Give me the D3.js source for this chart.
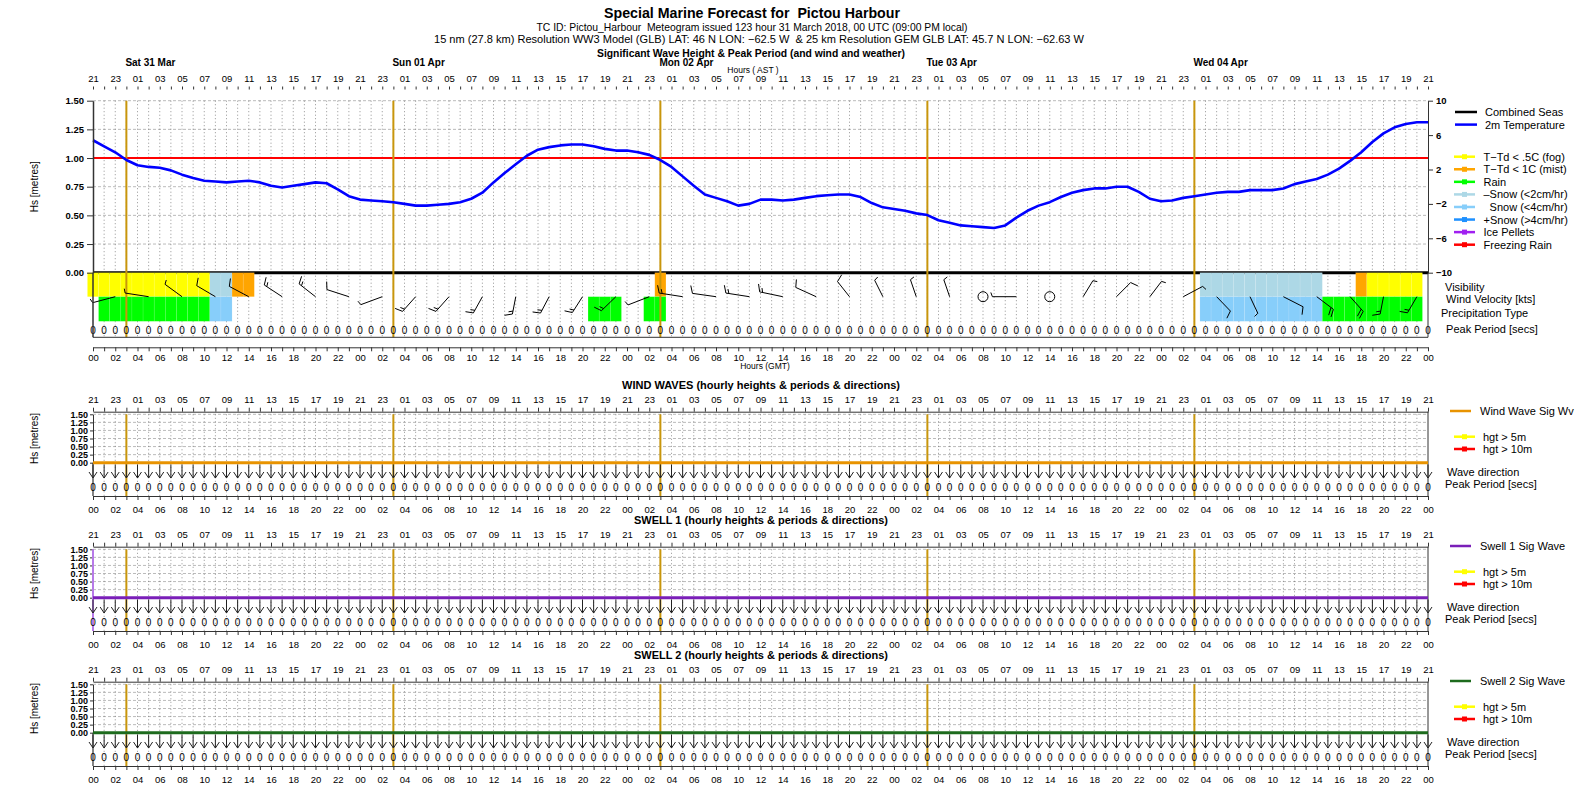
<!DOCTYPE html>
<html><head><meta charset="utf-8">
<script src="https://cdn.jsdelivr.net/npm/d3@7"></script>
<style>
body{margin:0;background:#fff}
svg{display:block}
text{font-family:"Liberation Sans",Arial,Helvetica,sans-serif;white-space:pre;fill:#000}
</style>
</head><body>
<svg id="c" width="1584" height="792"></svg>
<script>
// ---------------- DATA ----------------
const hoursGMT = d3.range(0, 121);            // hourly time steps (hours after 00 GMT 31 Mar)
const dayLabels = ["Sat 31 Mar","Sun 01 Apr","Mon 02 Apr","Tue 03 Apr","Wed 04 Apr"];
const dayStartHours = [3, 27, 51, 75, 99];    // local midnight (GMT hour)
const hsTicks = [0, 0.25, 0.5, 0.75, 1.0, 1.25, 1.5];
const tempTicks = [10, 6, 2, -2, -6, -10];
const hsThreshold = 1.0;

const temp2m = [5.4,4.7,4.0,3.1,2.5,2.3,2.2,1.9,1.4,1.0,
  0.7,0.6,0.5,0.6,0.7,0.5,0.1,-0.1,0.1,0.3,
  0.5,0.4,-0.3,-1.1,-1.5,-1.6,-1.7,-1.8,-2.0,-2.2,
  -2.2,-2.1,-2.0,-1.8,-1.4,-0.7,0.5,1.6,2.6,3.6,
  4.3,4.6,4.8,4.9,4.9,4.7,4.4,4.2,4.2,4.0,
  3.7,3.1,2.3,1.2,0.1,-0.9,-1.3,-1.7,-2.2,-2.0,
  -1.5,-1.5,-1.6,-1.5,-1.3,-1.1,-1.0,-0.9,-0.9,-1.2,
  -1.9,-2.4,-2.6,-2.8,-3.1,-3.3,-3.9,-4.2,-4.5,-4.6,
  -4.7,-4.8,-4.5,-3.6,-2.8,-2.2,-1.8,-1.2,-0.7,-0.4,
  -0.2,-0.2,0.0,0.0,-0.6,-1.4,-1.7,-1.6,-1.3,-1.1,
  -0.9,-0.7,-0.6,-0.6,-0.4,-0.4,-0.4,-0.2,0.3,0.6,
  0.9,1.4,2.1,3.0,4.0,5.2,6.2,6.9,7.3,7.5,7.5];

const combinedSeas = [0,0,0,0,0,0,0,0,0,0,0, 0,0,0,0,0,0,0,0,0,0,0, 0,0,0,0,0,0,0,0,0,0,0, 0,0,0,0,0,0,0,0,0,0,0,
  0,0,0,0,0,0,0,0,0,0,0, 0,0,0,0,0,0,0,0,0,0,0, 0,0,0,0,0,0,0,0,0,0,0, 0,0,0,0,0,0,0,0,0,0,0,
  0,0,0,0,0,0,0,0,0,0,0, 0,0,0,0,0,0,0,0,0,0,0, 0,0,0,0,0,0,0,0,0,0,0];
const peakPeriod = [0,0,0,0,0,0,0,0,0,0,0, 0,0,0,0,0,0,0,0,0,0,0, 0,0,0,0,0,0,0,0,0,0,0, 0,0,0,0,0,0,0,0,0,0,0,
  0,0,0,0,0,0,0,0,0,0,0, 0,0,0,0,0,0,0,0,0,0,0, 0,0,0,0,0,0,0,0,0,0,0, 0,0,0,0,0,0,0,0,0,0,0,
  0,0,0,0,0,0,0,0,0,0,0, 0,0,0,0,0,0,0,0,0,0,0, 0,0,0,0,0,0,0,0,0,0,0];

// hourly weather codes: F fog, M mist, R rain, L light snow, S snow, . none
const visHourly = ("FFFFFFFFFFF" + "LL" + "MM" + "...................................." + "M" +
  "................................................" + "LLLLLLLLLLL" + "..." + "M" + "FFFFF" + ".").split("");
const precipHourly = ("." + "RRRRRRRRRR" + "SS" + "................................" + "RRR" + ".." + "RR" +
  "................................................" + "SSSSSSSSSSS" + "RRRRRRRRR" + ".").split("");

// wind barbs (knots, direction wind blows from)
const barbHours = [2,5,8,11,14,17,20,23,26,29,32,35,38,41,44,47,50,53,56,59,62,65,68,71,74,77,80,83,86,89,92,95,98,101,104,107,110,113,116,119];
const barbDir   = [250,282,315,309,306,312,317,294,243,213,213,202,188,201,205,217,242,282,281,282,286,302,330,340,346,346,0,270,0,24,36,29,54,145,161,125,136,147,188,203];
const barbSpeed = [5,5,5,10,10,15,15,10,5,15,15,15,15,15,15,15,5,15,10,15,15,10,10,5,5,5,0,5,0,5,10,5,5,10,5,10,20,20,15,15];

// lower panels (hourly, all zero in this forecast)
const windWaveHs = combinedSeas.slice(), windWaveDir = combinedSeas.slice(), windWavePeriod = peakPeriod.slice();
const swell1Hs = combinedSeas.slice(), swell1Dir = combinedSeas.slice(), swell1Period = peakPeriod.slice();
const swell2Hs = combinedSeas.slice(), swell2Dir = combinedSeas.slice(), swell2Period = peakPeriod.slice();

const wxLegend = [
  ["F","T\u2212Td < .5C (fog)","#ffff00"],
  ["M","T\u2212Td < 1C (mist)","#ffa500"],
  ["R","Rain","#00ff00"],
  ["L","\u2013Snow (<2cm/hr)","#add8e6"],
  ["S","  Snow (<4cm/hr)","#87cefa"],
  ["H","+Snow (>4cm/hr)","#1e90ff"],
  ["I","Ice Pellets","#a020f0"],
  ["Z","Freezing Rain","#ff0000"]];
const wxColor = Object.fromEntries(wxLegend.map(d => [d[0], d[2]]));

// ---------------- DRAW ----------------
const svg = d3.select("#c");
const x = d3.scaleLinear().domain([0, 120]).range([93, 1428]);
const pad2 = n => String(n).padStart(2, "0");
const FONT = '"Liberation Sans",Arial,Helvetica,sans-serif';
const dayLineColor = "#c8960c";

function txt(g, s, xx, yy, fs, opts = {}) {
  const t = g.append("text").attr("x", xx).attr("y", yy).attr("font-size", fs).text(s);
  if (opts.bold) t.attr("font-weight", "bold");
  if (opts.anchor) t.attr("text-anchor", opts.anchor);
  if (opts.len) t.attr("textLength", opts.len).attr("lengthAdjust", "spacingAndGlyphs");
  return t;
}
function styleAxis(g, fs, bold) {
  g.selectAll("text").attr("font-size", fs).attr("font-family", FONT)
    .attr("font-weight", bold ? "bold" : "normal").style("fill", "#000");
  g.selectAll("line").attr("stroke", "#333");
  g.selectAll("path").attr("stroke", "#333");
}

// headers
txt(svg, "Special Marine Forecast for  Pictou Harbour", 752, 18, 14, {bold: true, anchor: "middle", len: 296});
txt(svg, "TC ID: Pictou_Harbour  Meteogram issued 123 hour 31 March 2018, 00 UTC (09:00 PM local)", 752, 30.5, 11, {anchor: "middle", len: 431});
txt(svg, "15 nm (27.8 km) Resolution WW3 Model (GLB) LAT: 46 N LON: \u221262.5 W  & 25 km Resolution GEM GLB LAT: 45.7 N LON: \u221262.63 W", 759, 43, 11, {anchor: "middle", len: 650});
txt(svg, "Significant Wave Height & Peak Period (and wind and weather)", 751, 56.5, 11, {bold: true, anchor: "middle", len: 308});
dayLabels.forEach((d, i) => txt(svg, d, x(dayStartHours[i]) - 1, 66, 10, {bold: true}));
txt(svg, "Hours ( AST )", 753, 73, 8.5, {anchor: "middle"});

// ---------- main panel ----------
const M = {top: 100.7, zero: 272.7, visB: 296.7, prB: 321.3, zerosY: 330, bottom: 337.3};
const yHs = d3.scaleLinear().domain([0, 1.5]).range([M.zero, M.top]);
const yT = d3.scaleLinear().domain([-10, 10]).range([M.zero, M.top]);
const gm = svg.append("g");

const topAx = gm.append("g").attr("transform", "translate(0,89.5)")
  .call(d3.axisTop(x).tickValues(hoursGMT).tickSize(3).tickPadding(5)
    .tickFormat(h => h % 2 === 0 ? pad2((h + 21) % 24) : ""));
topAx.select(".domain").remove();
styleAxis(topAx, 9.5, false);

gm.append("g").selectAll("line").data(hsTicks.filter(d => d > 0)).join("line")
  .attr("x1", x(0)).attr("x2", x(120)).attr("y1", d => yHs(d)).attr("y2", d => yHs(d))
  .attr("stroke", "#aaa").attr("stroke-width", 0.8).attr("stroke-dasharray", "3,2");
gm.append("g").selectAll("line").data(hoursGMT.slice(1, 120)).join("line")
  .attr("x1", d => x(d)).attr("x2", d => x(d)).attr("y1", M.top).attr("y2", M.bottom)
  .attr("stroke", "#777").attr("stroke-width", 0.8).attr("stroke-dasharray", "1,2.5");

gm.append("line").attr("x1", x(0)).attr("x2", x(120)).attr("y1", yHs(hsThreshold)).attr("y2", yHs(hsThreshold))
  .attr("stroke", "#ff0000").attr("stroke-width", 2);

gm.append("path").datum(combinedSeas)
  .attr("d", d3.line().x((d, i) => x(hoursGMT[i])).y(d => yHs(d)))
  .attr("fill", "none").attr("stroke", "#000").attr("stroke-width", 3);

// weather cells (hourly, centred on the hour)
const cw = x(1) - x(0);
const cells = gm.append("g");
visHourly.forEach((c, i) => { if (wxColor[c]) cells.append("rect").attr("x", x(hoursGMT[i]) - cw / 2).attr("width", cw)
  .attr("y", M.zero).attr("height", M.visB - M.zero).attr("fill", wxColor[c]); });
precipHourly.forEach((c, i) => { if (wxColor[c]) cells.append("rect").attr("x", x(hoursGMT[i]) - cw / 2).attr("width", cw)
  .attr("y", M.visB).attr("height", M.prB - M.visB).attr("fill", wxColor[c]); });
cells.selectAll("rect").attr("stroke", "#ffffff").attr("stroke-opacity", 0.15).attr("stroke-width", 0.6);

gm.append("g").selectAll("line").data(dayStartHours).join("line")
  .attr("x1", d => x(d)).attr("x2", d => x(d)).attr("y1", M.top).attr("y2", M.bottom)
  .attr("stroke", dayLineColor).attr("stroke-width", 2);

gm.append("path").datum(temp2m)
  .attr("d", d3.line().x((d, i) => x(hoursGMT[i])).y(d => yT(d)))
  .attr("fill", "none").attr("stroke", "#0000ff").attr("stroke-width", 2.6).attr("stroke-linejoin", "round");

// wind barbs
const gb = gm.append("g").attr("stroke", "#000").attr("stroke-width", 1).attr("fill", "none");
barbHours.forEach((h, i) => {
  const bx = x(h), by = M.visB, sp = barbSpeed[i], d = barbDir[i] * Math.PI / 180;
  if (sp === 0) { gb.append("circle").attr("cx", bx).attr("cy", by).attr("r", 5); return; }
  const tx = bx + 24 * Math.sin(d), ty = by - 17.5 * Math.cos(d);
  gb.append("line").attr("x1", bx).attr("y1", by).attr("x2", tx).attr("y2", ty);
  const L = Math.hypot(tx - bx, ty - by), ux = (tx - bx) / L, uy = (ty - by) / L;
  const a = 70 * Math.PI / 180, fx = ux * Math.cos(a) - uy * Math.sin(a), fy = ux * Math.sin(a) + uy * Math.cos(a);
  const n10 = Math.floor(sp / 10), n5 = (sp % 10) >= 5 ? 1 : 0;
  let pos = 0;
  for (let k = 0; k < n10; k++) {
    const px = tx - ux * pos, py = ty - uy * pos;
    gb.append("line").attr("x1", px).attr("y1", py).attr("x2", px + fx * 8).attr("y2", py + fy * 8);
    pos += 3;
  }
  if (n5) {
    const px = tx - ux * pos, py = ty - uy * pos;
    gb.append("line").attr("x1", px).attr("y1", py).attr("x2", px + fx * 4.5).attr("y2", py + fy * 4.5);
  }
});

gm.append("g").selectAll("text").data(peakPeriod).join("text")
  .attr("x", (d, i) => x(hoursGMT[i])).attr("y", M.zerosY + 3.6).attr("text-anchor", "middle")
  .attr("font-size", 10).text(d => d);

const la = gm.append("g").attr("transform", `translate(${x(0)},0)`)
  .call(d3.axisLeft(yHs).tickValues(hsTicks).tickFormat(d3.format(".2f")).tickSize(6).tickSizeOuter(0));
styleAxis(la, 9.5, true); la.select(".domain").attr("stroke-width", 1.5);
gm.append("line").attr("x1", x(0)).attr("x2", x(0)).attr("y1", M.zero).attr("y2", M.bottom).attr("stroke", "#333").attr("stroke-width", 1.5);
const ra = gm.append("g").attr("transform", `translate(${x(120)},0)`)
  .call(d3.axisRight(yT).tickValues(tempTicks).tickFormat(d => d < 0 ? "\u2212" + Math.abs(d) : d).tickSize(5).tickSizeOuter(0));
styleAxis(ra, 9.5, true);
gm.append("line").attr("x1", x(120)).attr("x2", x(120)).attr("y1", M.zero).attr("y2", M.bottom).attr("stroke", "#333");
gm.append("line").attr("x1", x(0)).attr("x2", x(120)).attr("y1", M.bottom).attr("y2", M.bottom).attr("stroke", "#333");
const ba = gm.append("g").attr("transform", "translate(0,347.3)")
  .call(d3.axisBottom(x).tickValues(hoursGMT).tickSize(4).tickSizeOuter(0).tickPadding(3)
    .tickFormat(h => h % 2 === 0 ? pad2(h % 24) : ""));
styleAxis(ba, 9.5, false);
txt(gm, "Hours (GMT)", 765, 369, 8.5, {anchor: "middle"});
txt(gm, "Hs [metres]", 0, 0, 10).attr("transform", `translate(38,${(M.top + M.zero) / 2}) rotate(-90)`).attr("text-anchor", "middle");

// main legend
const lg = gm.append("g");
[["Combined Seas", "#000", 112], ["2m Temperature", "#0000ff", 124.6]].forEach(([s, c, yy]) => {
  lg.append("line").attr("x1", 1455).attr("x2", 1477).attr("y1", yy).attr("y2", yy).attr("stroke", c).attr("stroke-width", 2.5);
  txt(lg, s, 1485, yy + 4, 11);
});
wxLegend.forEach((d, i) => {
  const yy = 156.7 + i * 12.57;
  lg.append("line").attr("x1", 1454).attr("x2", 1475).attr("y1", yy).attr("y2", yy).attr("stroke", d[2]).attr("stroke-width", 2.5);
  lg.append("rect").attr("x", 1462).attr("y", yy - 2.5).attr("width", 5).attr("height", 5).attr("fill", d[2]);
  txt(lg, d[1], 1483.5, yy + 4, 11);
});
txt(lg, "Visibility", 1445, 290.5, 11);
txt(lg, " Wind Velocity [kts]", 1443, 303, 11);
txt(lg, "Precipitation Type", 1441, 316.5, 11);
txt(lg, " Peak Period [secs]", 1443, 333, 11);

// ---------- lower panels ----------
const panels = [
  {P: 0, title: "WIND WAVES (hourly heights & periods & directions)", legend: "Wind Wave Sig Wv", color: "#e89300", hs: windWaveHs, dir: windWaveDir, per: windWavePeriod},
  {P: 135, title: "SWELL 1 (hourly heights & periods & directions)", legend: "Swell 1 Sig Wave", color: "#7a1fb8", hs: swell1Hs, dir: swell1Dir, per: swell1Period, edge: "#b77ae8"},
  {P: 270, title: "SWELL 2 (hourly heights & periods & directions)", legend: "Swell 2 Sig Wave", color: "#1d6b1d", hs: swell2Hs, dir: swell2Dir, per: swell2Period}
];
panels.forEach(p => {
  const P = p.P, g = svg.append("g");
  const top = P + 414.3, zero = P + 462.7, bottom = P + 496;
  const y = d3.scaleLinear().domain([0, 1.5]).range([zero, top]);
  txt(g, p.title, 761, P + 388.5, 11, {bold: true, anchor: "middle"});
  const ta = g.append("g").attr("transform", `translate(0,${P + 411.7})`)
    .call(d3.axisTop(x).tickValues(hoursGMT).tickSize(4).tickSizeOuter(0).tickPadding(4.5)
      .tickFormat(h => h % 2 === 0 ? pad2((h + 21) % 24) : ""));
  styleAxis(ta, 9.5, false);
  g.append("g").selectAll("line").data(hsTicks.filter(d => d > 0)).join("line")
    .attr("x1", x(0)).attr("x2", x(120)).attr("y1", d => y(d)).attr("y2", d => y(d))
    .attr("stroke", "#aaa").attr("stroke-width", 0.8).attr("stroke-dasharray", "3,2");
  g.append("g").selectAll("line").data(hoursGMT.slice(1, 120)).join("line")
    .attr("x1", d => x(d)).attr("x2", d => x(d)).attr("y1", top).attr("y2", bottom)
    .attr("stroke", "#777").attr("stroke-width", 0.8).attr("stroke-dasharray", "1,2.5");
  g.append("g").selectAll("line").data(dayStartHours).join("line")
    .attr("x1", d => x(d)).attr("x2", d => x(d)).attr("y1", top).attr("y2", bottom)
    .attr("stroke", dayLineColor).attr("stroke-width", 2);
  const la2 = g.append("g").attr("transform", `translate(${x(0)},0)`)
    .call(d3.axisLeft(y).tickValues(hsTicks).tickFormat(d3.format(".2f")).tickSize(3).tickSizeOuter(0).tickPadding(2));
  styleAxis(la2, 9, true);
  la2.selectAll("text").attr("dy", "0.36em");
  g.append("line").attr("x1", x(0)).attr("x2", x(0)).attr("y1", zero).attr("y2", bottom).attr("stroke", "#333").attr("stroke-width", 1.2);
  if (p.edge) g.append("line").attr("x1", x(0)).attr("x2", x(0)).attr("y1", top).attr("y2", bottom).attr("stroke", p.edge).attr("stroke-width", 2);
  g.append("line").attr("x1", x(120)).attr("x2", x(120)).attr("y1", P + 411.7).attr("y2", bottom).attr("stroke", "#333");
  g.append("path").datum(p.hs).attr("d", d3.line().x((d, i) => x(hoursGMT[i])).y(d => y(d)))
    .attr("fill", "none").attr("stroke", p.color).attr("stroke-width", 3);
  const ga = g.append("g").attr("stroke", "#222").attr("stroke-width", 1).attr("fill", "none");
  p.dir.forEach((dd, i) => {
    const cx = x(hoursGMT[i]), cy = P + 471.5;
    const ag = ga.append("g").attr("transform", `translate(${cx},${cy}) rotate(${dd})`);
    ag.append("line").attr("x1", 0).attr("y1", -7).attr("x2", 0).attr("y2", 6.5);
    ag.append("path").attr("d", "M-4,0.5L0,6.5L4,0.5");
  });
  g.append("g").selectAll("text").data(p.per).join("text")
    .attr("x", (d, i) => x(hoursGMT[i])).attr("y", P + 487.3 + 3.6).attr("text-anchor", "middle")
    .attr("font-size", 10).text(d => d);
  const bb = g.append("g").attr("transform", `translate(0,${bottom})`)
    .call(d3.axisBottom(x).tickValues(hoursGMT).tickSize(4).tickSizeOuter(0).tickPadding(6)
      .tickFormat(h => h % 2 === 0 ? pad2(h % 24) : ""));
  styleAxis(bb, 9.5, false);
  txt(g, "Hs [metres]", 0, 0, 10).attr("transform", `translate(38,${(top + zero) / 2}) rotate(-90)`).attr("text-anchor", "middle");
  g.append("line").attr("x1", 1450).attr("x2", 1471).attr("y1", P + 411).attr("y2", P + 411).attr("stroke", p.color).attr("stroke-width", 2.5);
  txt(g, p.legend, 1480, P + 415, 11);
  [["hgt > 5m", "#ffff00", 436.7], ["hgt > 10m", "#ff0000", 449]].forEach(([s, c, yy]) => {
    g.append("line").attr("x1", 1454).attr("x2", 1475).attr("y1", P + yy).attr("y2", P + yy).attr("stroke", c).attr("stroke-width", 2.5);
    g.append("rect").attr("x", 1462).attr("y", P + yy - 2.5).attr("width", 5).attr("height", 5).attr("fill", c);
    txt(g, s, 1483, P + yy + 4, 11);
  });
  txt(g, "Wave direction", 1447, P + 475.5, 11);
  txt(g, "Peak Period [secs]", 1445, P + 488, 11);
});
</script>
</body></html>
